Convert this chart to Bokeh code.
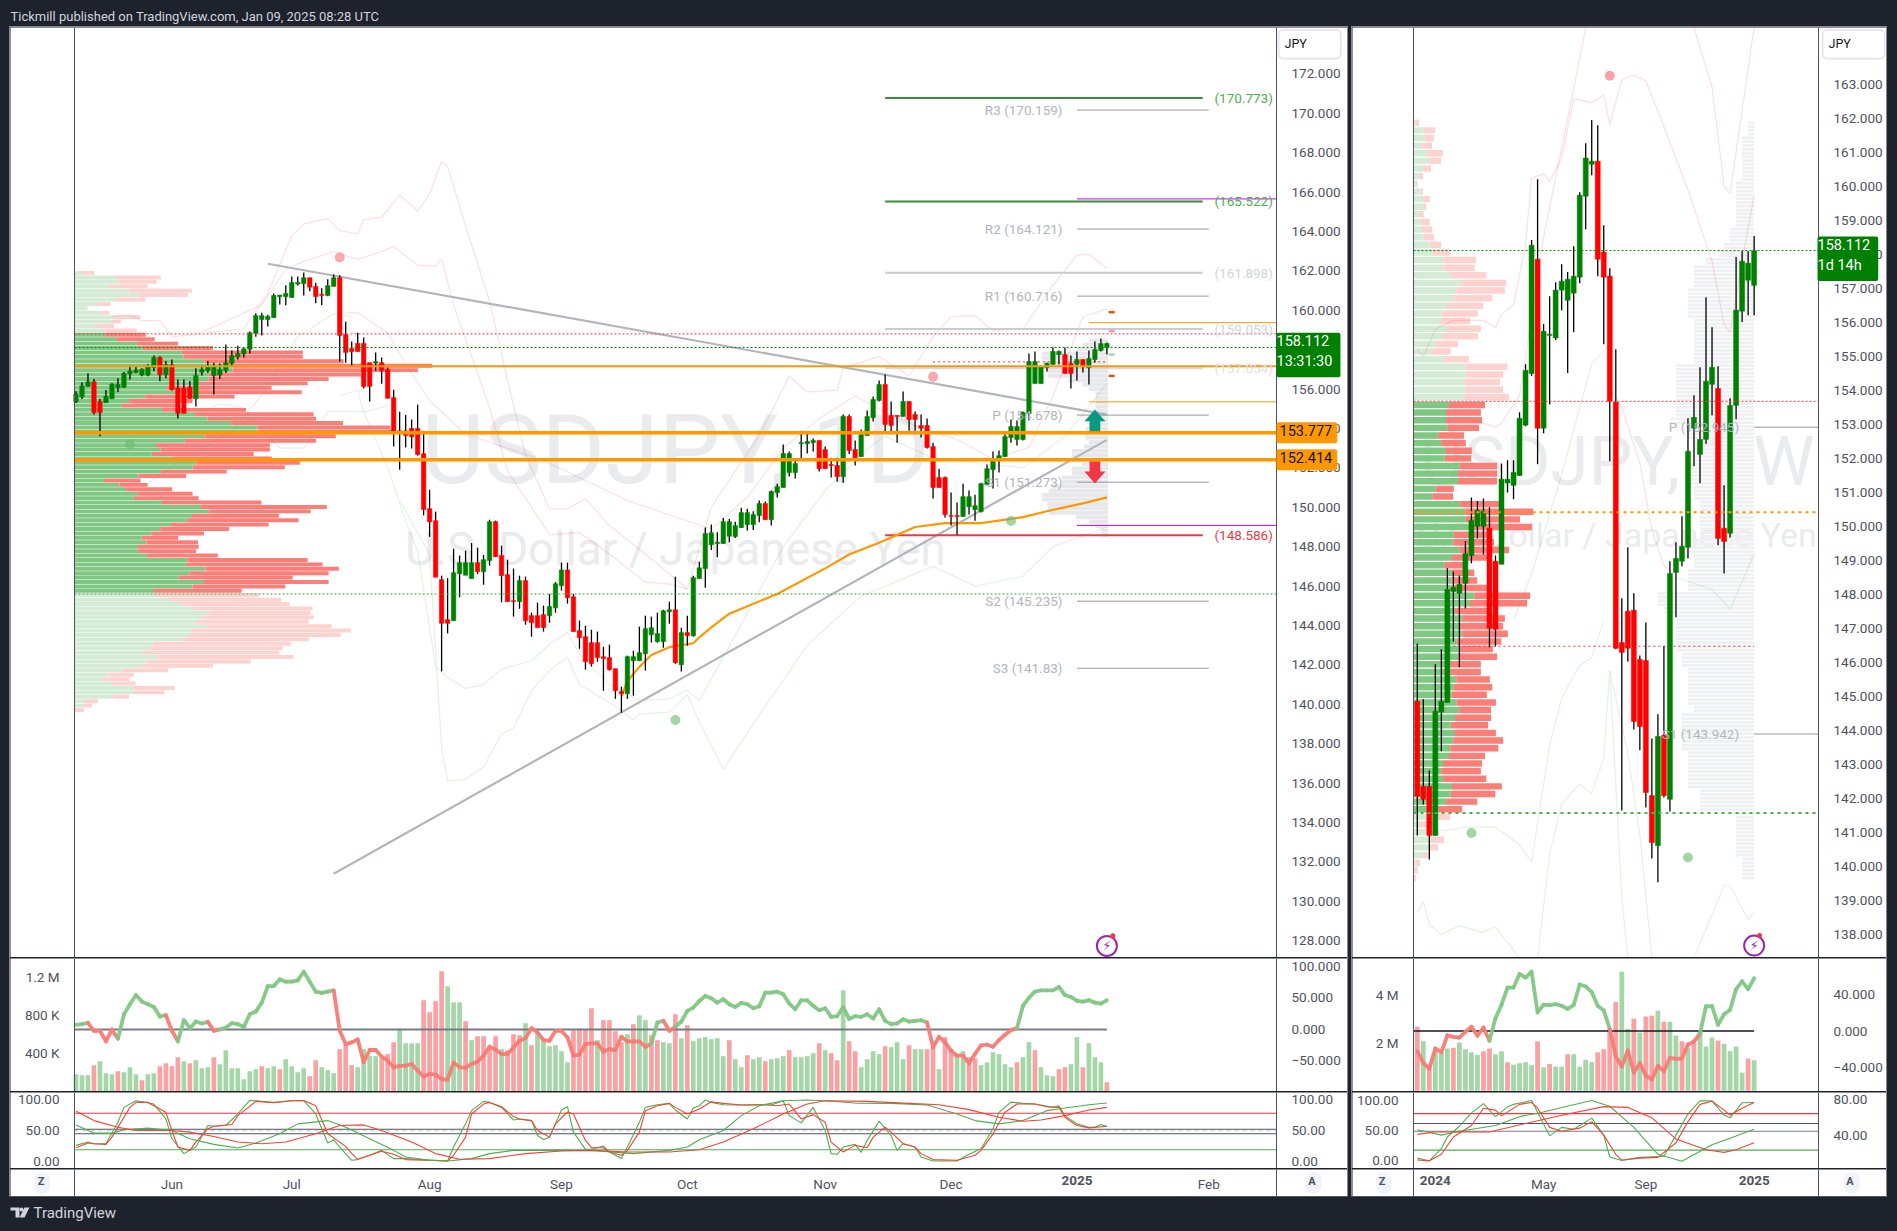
# USDJPY daily + weekly TradingView layout
import numpy as np
from bokeh.core.properties import value
from bokeh.embed import file_html
from bokeh.layouts import column, row
from bokeh.models import (ColumnDataSource, FixedTicker, GlobalInlineStyleSheet, Label,
                          LinearAxis, Range1d, Span, Spacer)
from bokeh.plotting import figure
from bokeh.resources import INLINE

# daily candles
d_open = [155.35,155.61,156.13,156.37,155.37,155.31,155.51,156.07,156.09,156.76,156.84,156.71,156.71,157.10,157.60,156.73,157.24,156.05,156.05,156.09,
          155.51,156.85,156.94,156.69,156.71,156.94,157.30,157.64,157.78,158.02,158.82,159.53,159.53,159.63,160.69,160.69,160.65,161.33,161.35,161.65,
          161.21,160.81,160.75,161.21,161.65,158.76,158.06,158.32,158.32,157.34,157.32,157.34,157.00,155.57,153.88,153.88,154.00,154.00,152.72,149.93,
          149.32,146.33,144.30,144.24,146.63,146.55,146.38,147.19,146.73,147.29,149.27,147.55,146.58,145.26,145.21,146.28,144.50,144.50,144.55,144.50,
          144.90,146.02,146.82,145.46,143.74,143.43,143.13,143.13,142.42,142.37,141.81,140.64,140.54,142.21,142.21,142.57,143.53,143.18,143.18,144.70,
          144.80,142.01,143.64,143.48,146.38,146.89,148.10,148.16,148.16,148.53,148.51,148.97,149.12,149.12,149.58,150.19,149.37,150.75,151.00,151.76,
          151.76,153.23,153.23,153.28,153.39,152.93,152.17,152.12,151.56,154.61,152.93,152.57,153.64,154.55,155.42,156.23,154.66,154.66,154.61,155.37,
          154.71,154.15,154.15,153.08,151.51,151.51,149.58,149.58,149.53,150.03,149.88,149.78,151.15,151.91,152.37,152.57,153.54,153.44,153.44,154.76,
          156.28,156.28,157.09,157.25,157.75,157.75,157.30,157.25,157.50,157.09,157.50,157.96,158.11]
d_high = [155.89,156.35,156.80,156.51,155.51,155.95,156.29,156.55,156.86,157.20,157.16,157.06,157.26,157.70,157.66,157.42,157.50,156.49,156.49,156.41,
          157.06,157.20,157.42,157.34,157.30,158.26,157.96,158.20,158.10,158.92,159.85,159.87,159.77,160.85,160.77,161.27,161.71,161.71,161.91,161.65,
          161.39,161.11,161.57,161.81,161.77,159.42,158.42,158.86,158.62,157.34,157.86,157.60,157.10,155.97,154.85,154.69,154.45,155.21,153.88,150.89,
          149.78,146.53,146.40,147.90,147.55,147.80,148.19,147.95,147.58,149.37,149.32,148.05,147.34,146.89,146.53,146.48,144.65,145.16,145.01,145.60,
          146.21,147.19,147.19,145.60,144.25,143.99,143.79,143.69,142.92,143.03,141.81,140.89,142.47,142.72,143.94,144.50,144.45,144.65,144.80,145.21,
          146.48,143.89,144.50,146.53,147.24,148.97,149.12,148.73,149.46,149.41,149.27,149.97,149.92,149.80,150.34,150.29,150.85,151.20,153.18,152.83,
          152.37,153.89,153.84,153.49,153.39,153.08,152.52,152.52,154.71,154.71,153.39,153.95,154.91,155.62,156.43,156.74,155.37,154.66,155.87,155.37,
          154.86,154.71,154.50,153.28,151.96,151.56,150.75,150.24,151.20,150.85,150.64,151.25,152.17,152.83,152.88,153.79,154.45,154.40,154.86,157.81,
          157.91,157.20,157.35,158.11,157.96,158.11,157.70,157.91,157.50,157.96,158.41,158.57,158.36]
d_low = [155.29,155.49,156.13,154.71,153.60,155.29,155.51,155.85,156.05,156.49,156.80,156.65,156.65,156.90,156.39,156.55,155.93,154.51,154.77,155.49,
         155.11,156.69,156.81,155.73,156.51,156.81,157.16,157.50,157.60,157.80,158.66,158.72,159.18,159.61,160.29,160.25,160.63,161.25,160.75,160.97,
         160.35,160.25,160.71,161.21,157.40,157.34,157.14,157.90,156.03,155.37,156.93,156.27,155.53,153.08,151.91,153.04,152.98,152.62,149.59,148.50,
         146.45,141.67,143.60,144.24,145.43,146.55,146.38,146.60,146.07,147.04,147.49,145.18,145.21,144.45,144.85,144.04,143.43,143.89,143.69,144.14,
         144.65,145.77,145.11,143.69,142.82,141.76,141.91,142.16,140.69,141.71,140.28,139.57,140.28,140.44,142.21,141.71,143.13,143.13,142.87,144.09,
         142.06,141.66,142.97,143.43,146.38,145.92,147.83,147.46,148.16,148.22,148.44,148.95,148.82,148.85,149.24,149.37,149.07,150.49,151.00,151.56,
         151.46,152.37,152.73,152.83,151.81,151.96,151.51,151.30,151.25,152.71,152.12,152.57,153.64,154.35,155.37,153.84,153.84,153.28,154.61,153.89,
         153.89,153.54,152.98,150.44,151.00,149.48,149.07,148.61,149.53,149.63,149.32,149.73,151.15,150.95,151.76,152.57,153.28,153.13,153.39,154.40,
         156.28,156.28,156.89,157.25,157.25,156.79,156.03,156.43,156.84,156.23,157.35,157.91,157.75]
d_close = [155.75,156.17,156.37,154.81,154.81,155.63,156.25,156.23,156.80,156.92,156.96,157.00,157.16,157.60,156.73,157.24,155.97,154.77,154.77,155.53,
           156.69,157.00,157.16,157.14,157.00,157.34,157.70,157.80,158.04,158.86,159.73,159.73,159.69,160.75,160.77,160.85,161.41,161.41,161.65,161.17,
           160.69,160.75,161.25,161.65,158.72,157.86,157.90,157.90,156.13,156.13,157.40,156.94,155.53,153.78,153.76,153.64,153.58,152.68,149.89,149.26,
           146.45,144.11,144.11,146.68,147.19,147.19,147.19,146.73,147.34,149.27,147.49,146.53,145.21,145.21,146.28,144.24,144.14,143.89,143.89,144.96,
           146.12,146.82,145.41,143.69,143.38,142.16,142.06,142.37,142.32,141.76,140.69,140.54,142.42,142.42,142.62,143.84,143.89,143.59,144.75,144.80,
           142.11,143.64,143.48,146.43,146.93,148.67,148.71,148.22,149.27,149.27,149.07,149.73,149.73,149.63,150.19,149.37,150.80,151.05,152.73,152.73,
           152.22,153.28,153.34,153.39,151.96,151.96,152.12,151.56,154.61,152.88,152.52,153.69,154.61,155.47,156.23,154.20,154.15,154.61,155.37,154.45,
           154.45,154.01,153.03,151.00,151.00,149.63,149.54,149.53,150.54,150.54,150.08,151.20,151.96,152.42,152.62,153.59,154.10,154.10,154.81,157.40,
           157.40,157.14,157.30,157.91,157.91,156.79,156.79,157.50,157.14,157.55,158.01,158.31,158.31]

# weekly candles
w_open = [144.86,142.36,142.36,140.92,144.54,144.83,148.09,148.04,148.33,149.15,150.01,150.01,149.95,148.98,148.89,151.28,151.21,151.50,152.98,154.50,
          157.86,152.89,155.62,155.54,156.95,156.65,156.86,157.33,159.71,160.65,160.74,158.07,157.36,153.65,146.59,147.51,147.54,146.09,146.06,142.09,
          140.62,143.86,141.98,148.65,148.98,149.39,152.89,152.12,152.56,154.18,154.06,149.95,149.80,153.56,156.33,157.24,157.09]
w_high = [146.56,144.92,142.83,145.95,146.39,148.77,148.68,148.56,149.57,150.85,150.75,150.82,150.57,149.15,151.85,151.95,151.95,153.36,154.77,158.42,
          160.21,155.95,156.77,157.18,157.71,157.48,158.24,159.83,161.27,161.95,161.80,158.86,157.59,155.21,147.89,149.39,148.04,146.21,147.18,143.77,
          144.48,146.48,148.98,149.54,150.30,153.18,153.86,154.68,156.74,155.86,154.71,151.21,153.77,157.92,158.09,158.09,158.54]
w_low = [140.92,141.83,140.21,140.92,143.39,144.83,146.62,145.86,147.59,148.92,149.65,149.18,146.45,146.48,148.89,151.00,150.80,151.50,152.95,154.42,
         151.83,152.74,153.59,155.48,156.36,154.51,155.71,157.15,158.74,160.33,157.36,155.36,151.92,146.39,141.65,146.03,144.03,143.42,141.74,140.24,
         139.54,142.03,141.62,147.33,148.83,149.06,151.77,151.27,152.43,153.27,149.45,148.62,149.68,153.15,156.01,156.21,156.21]
w_close = [142.07,141.98,140.92,144.57,144.86,148.15,148.21,148.30,149.21,150.18,150.48,150.45,147.01,146.98,151.39,151.39,151.59,153.18,154.59,158.27,
           152.89,155.74,155.65,156.95,157.21,157.27,157.36,159.74,160.83,160.74,157.86,157.33,153.68,146.42,146.30,146.42,144.27,144.12,142.18,140.71,
           143.83,142.09,148.62,149.06,149.42,152.21,153.21,152.56,154.27,154.68,149.65,149.56,153.56,156.36,157.80,157.74,158.11]

# volume (thousands, daily), (millions, weekly) and up/down colour flags
d_vol = [179,168,168,274,316,190,179,211,200,253,179,116,179,190,263,295,263,358,316,295,326,242,253,358,284,432,242,242,126,211,232,263,242,263,232,337,263,200,242,158,326,253,221,190,
         442,495,274,253,442,369,369,347,390,516,660,505,505,505,958,832,948,1264,1106,937,937,737,537,579,579,442,579,442,432,600,590,716,484,621,548,474,484,421,305,642,660,653,874,537,748,748,632,516,600,706,800,748,590,537,516,505,811,558,695,527,558,
         569,548,558,369,537,337,253,379,337,358,316,337,347,369,432,358,358,369,400,505,432,400,326,1064,527,421,253,337,421,390,474,463,516,337,484,442,442,442,463,232,569,442,369,421,358,347,274,305,411,390,284,253,305,358,516,432,253,168,158,232,253,284,569,253,505,358,305,95]
d_vol_up = [1,1,1,0,1,1,1,0,1,1,1,0,1,1,0,0,0,0,1,0,1,1,1,0,1,1,1,1,1,1,1,0,1,1,0,1,1,1,1,0,0,1,1,1,
            0,0,0,1,1,1,1,0,0,0,1,1,1,1,0,0,0,0,1,1,1,0,1,0,0,0,0,1,0,0,0,1,0,1,1,1,1,1,1,0,0,0,0,1,0,0,0,0,1,0,1,1,0,0,1,1,0,1,0,1,1,
            1,1,1,1,0,1,1,0,1,1,0,1,1,1,0,1,1,1,1,0,1,0,0,1,0,0,1,1,1,1,0,1,1,1,0,1,1,0,0,1,0,0,1,1,0,0,1,1,1,1,1,1,0,1,1,0,1,1,1,0,0,1,1,0,1,1,1,0]
w_vol = [2.68,2.07,0.96,1.66,1.58,1.77,1.80,2.02,1.74,1.61,1.50,1.66,1.77,1.53,1.66,1.20,1.09,1.15,1.20,1.07,2.07,0.98,1.12,1.01,1.01,1.53,1.53,1.01,1.30,1.20,1.61,1.74,2.59,3.72,4.98,2.60,3.02,2.44,3.11,3.14,3.35,2.89,2.89,2.31,2.07,1.80,2.02,2.47,1.85,2.23,2.10,1.97,1.66,1.85,0.76,1.35,1.28]
w_vol_up = [0,1,0,1,1,1,0,1,1,1,1,0,0,1,1,0,1,1,1,1,0,1,0,1,1,0,1,1,1,1,0,0,0,0,1,1,0,1,0,0,1,0,1,1,0,1,0,1,1,1,0,1,1,1,1,0,1]

# thick momentum line in the volume pane
d_mom = [7.4,8.4,10.5,-2.1,-2.1,-18.9,0,-14.7,24.2,40,54.7,44.2,40,35.8,20.5,22.6,-2.1,-18.9,14.7,2.1,12.6,9.5,12.1,-2.1,0,3.2,10,8.4,4.2,24.2,28.4,42.6,68.9,68.9,79.5,75.8,75.8,77.9,91.6,75.8,60,57.9,60,62.1,
         -2.1,-23.2,-20.5,-15.8,-52.1,-32.6,-32.6,-43.2,-49.5,-60,-57.9,-57.4,-54.7,-65.3,-74.7,-70.5,-71.6,-78.4,-80,-52.6,-60,-61,-54.7,-51,-41.6,-27.4,-32.1,-38.9,-38.9,-28.4,-17.9,-13.7,2.1,-4.7,-16.8,-17.9,-2.1,-2.1,-12.6,-41.6,-40,-23.2,-22.1,-22.1,-35.3,-31.1,-32.6,-11.6,-18.9,-18.9,-18.9,-27.4,-22.1,11.1,13.7,-2.1,4.2,12.6,29.5,34.7,45.3,
         53.2,49.5,42.6,47.9,40,35.8,42.1,40,33.7,36.8,58.4,58.4,60,55.8,41.1,32.1,46.3,46.3,37.4,30.5,33.7,20,21.1,35.8,16.8,21.1,20,24.2,17.4,32.1,13.7,8.4,9.5,16.3,12.6,13.7,14.7,11.1,-28.4,-11.6,-20.5,-33.7,-41.6,-41.6,-53.7,-38.9,-25.3,-24.2,-27.4,-16.8,-8.4,-1.1,2.1,37.4,50.5,60,62.1,62.1,62.1,67.4,54.7,51.6,45.3,44.2,46.3,42.6,41.1,46.3]
d_mom_red = [(2,7),(15,17),(22,24),(43,96),(98,100),(142,157)]
w_mom = [-22.1,-34.9,-41.3,-19.1,-23.4,-4.7,-6.4,-7.2,-0.9,4.7,-5.1,3.8,-10.6,14,28.9,47.7,47.7,62.5,58.7,65.1,20.4,28.9,28.5,29.4,27.7,24.3,28.5,51.1,48.9,42.6,27.7,22.6,2.1,-27.7,-39.1,-21.3,-45.5,-35.3,-48.9,-53.2,-38.3,-44.3,-29.4,-30.6,-30.2,-14.9,-11.5,-3,27.2,27.2,6.8,18.3,23.4,46,54.5,46,57.9]
w_mom_red = [(0,12),(32,47)]

# oscillators, daily
k_i = [0,2,3,5,7,8,10,12,13,15,16,18,20,22,23,25,27,29,30,33,36,38,40,42,43,44,46,47,49,51,53,55,58,62,63,65,66,68,69,71,73,74,76,77,78,79,81,82,83,85,86,88,89,91,92,94,95,97,99,100,102,103,104,
       105,106,108,111,114,116,118,119,121,123,125,126,127,128,130,131,132,134,136,137,138,140,141,143,147,149,151,153,154,156,158,160,163,164,165,167,169,170,171,172]
k_v = [25.8,31.2,28.5,28.5,63.4,87.6,98.4,95.2,93,68.8,36.6,12.4,23.1,58.1,57,58.1,76.9,98.9,98.4,95.7,98.4,98.4,76.9,29.6,34.9,23.1,1.6,2.7,9.7,17.7,4.3,4.3,2.7,0.5,23.1,60.8,82.3,97.3,95.7,87.6,67.2,68.8,66.1,41.9,35.5,39.2,83.3,88.7,47.3,19.4,19.4,24.7,15.1,4.3,23.1,63.4,87.6,91.9,94.1,83.3,68.8,86.6,90.3,
       99.5,95.7,91.9,91.4,91.9,91.4,98.4,74.2,62.4,87.6,50,12.4,11.3,23.1,27.4,14.5,33.9,65.1,41.9,17.7,28.5,23.1,7,0.5,0.5,11.3,20.4,52.7,79.6,96.2,94.1,93,87.6,90.3,74.2,60.8,55.4,55.4,59.7,56.5]
d_i = [0,2,3,5,6,8,9,10,12,15,16,17,19,20,22,23,26,27,30,33,36,38,40,42,45,46,47,49,51,53,55,58,62,63,65,66,68,69,71,73,74,76,77,79,80,82,83,85,86,88,89,91,92,94,95,97,99,100,102,104,
       106,108,111,115,117,119,121,123,125,126,128,130,132,133,135,136,138,140,141,143,147,150,151,153,155,157,160,162,164,165,167,169,172]
d_v = [22,29.6,28.5,27.4,39.2,71.5,87.6,95.7,95.7,79.6,50,23.1,17.7,31.2,52.7,57,59.7,74.2,97.3,95.2,98.4,98.9,90.3,44.6,24.2,12.4,3.2,9.7,16.1,11.3,2.7,1.6,0.5,9.7,39.2,76.9,93,95.7,88.7,72.6,68.8,66.1,50,39.2,60.8,80.1,76.9,33.9,22,22,15.1,9.7,17.7,47.3,82.3,90.3,94.1,87.6,76.9,84.9,
       96.8,94.1,91.4,91.9,90.3,93,68.8,75.8,63.4,31.2,15.1,25.8,22,39.2,55.4,47.3,28.5,23.1,12.4,2.7,1.6,9.7,17.7,44.6,79.6,93,93,88.7,87.6,71.5,58.1,54.3,57]
sk_i = [0,3,6,8,12,16,19,23,27,30,34,37,42,45,49,53,55,59,62,66,69,73,81,86,93,99,102,104,108,111,114,118,122,125,130,136,142,147,150,154,158,162,165,169,172]
sk_v = [59.1,45.7,45.7,51.1,53.8,50,36.6,27.4,21.5,29.6,44.6,60.8,66.1,55.4,36.6,17.7,7,1.6,0.5,4.3,12.4,17.7,17.7,17.7,12.4,17.7,23.1,34.9,50,74.2,90.3,98.4,99.5,98.4,94.6,94.1,91.4,76.9,66.1,60.8,66.1,82.3,86.6,91.9,94.6]
sd_i = [0,3,7,10,16,19,23,27,31,35,40,44,48,51,56,60,64,69,75,81,86,92,99,104,108,113,118,122,125,132,139,144,149,154,158,161,165,169,172]
sd_v = [81.2,66.1,55.4,50,50,47.3,40.3,31.2,28.5,31.2,44.6,58.1,59.1,50,31.2,12.4,3.2,4.3,12.4,16.7,17.7,15.1,15.1,18.8,31.2,52.7,76.9,93,98.4,97.3,94.1,91.9,83.9,71.5,65.1,67.2,74.2,83.3,87.6]

# oscillators, weekly
wk_i = [0,2,4,5,7,9,11,13,15,16,19,22,24,26,29,31,32,34,37,41,43,45,47,49,51,52,54,56]
wk_v = [4.5,0,20.5,39.7,57.7,80.1,95.5,73.7,89.7,94.2,100.6,41.7,55.8,52.6,71.2,42.9,6.4,0.6,5.8,7.7,42.9,78.2,100,100,76.3,71.8,96.8,97.4]
wd_i = [0,2,4,6,9,11,13,14,17,19,20,22,24,27,29,31,33,34,37,40,43,45,47,49,51,52,54,56]
wd_v = [1.3,0,10.9,39.7,59,87.8,84.6,75,94.2,97.4,87.8,55.8,49.4,54.5,65.4,42.9,10.9,1.3,4.5,5.8,30.1,65.4,94.2,99.4,84.6,76.3,87.8,97.4]
wsk_i = [0,4,7,13,17,21,24,29,32,36,40,44,49,52,56]
wsk_v = [51.9,42.9,49.4,59,73.7,81.4,89.1,100.6,91,55.8,10.9,-0.6,26.9,37.8,52.6]
wsd_i = [0,3,12,18,25,31,35,39,43,48,51,53,56]
wsd_v = [44.2,48.1,48.1,62.2,78.2,90.4,89.1,71.8,36.5,18.6,14.1,18.6,30.1]

# volume profile, daily chart: (buy, total) per row, top row first
dp_up = [1.1,6.9,7.5,5.6,9,10.9,6.9,3.8,2,4.6,6.8,6.1,3.3,5.1,5.1,7.1,10.4,11.4,17.9,18.2,21.7,26.4,26.4,22.4,22.4,20.4,15.3,17,11.8,9.1,7.8,14.6,20.1,22.2,26.1,30.5,30.5,21.9,18.4,13.6,14.4,12.9,16.3,20.4,19.7,14.3,10.7,4.9,7.5,8.6,10.6,9.9,14.6,21.1,22.4,19.6,18.8,16.1,14.3,12.8,11.2,12,10.6,10.6,12.1,18.9,18.6,21.9,19.2,17.4,21.6,19.7,13.1,13.6,
         16.1,17.9,19.9,22.5,21.4,20.2,22.1,19.6,19.1,17.9,13,12.6,11.2,13.9,12,11.4,8,5.7,4.4,6.3,9.9,9.9,6.5,1.6,1.4,0]
dp_total = [3.3,14.4,13.7,12.2,19.6,18.9,11.8,6,2.2,5.8,11,7.8,6.6,10.4,11.9,13.4,17.3,23.1,38.1,38.1,44.9,59.7,57.3,47.8,42.4,38.9,32.9,37.9,26.7,19.7,17,28.6,39.9,40.3,44.8,52.7,53.1,43.6,40.3,32.6,32.6,29.9,32.9,37.6,35.1,25.4,18.6,11,12.2,16.3,19.7,20.7,31.2,42.1,39.4,34.1,37.4,32.4,25.8,21.6,17.3,20.6,20.7,20.3,23.9,38.9,41.4,44.1,42.4,36.4,42.4,35.2,27.9,30.7,
            34.5,35.9,39.7,39.4,39.9,39.1,42.9,46.1,44.4,39.1,36.1,34.7,34.2,36.5,29.4,23.1,15.6,9.9,9.2,10.2,16.7,15,9.1,3.9,2.9,1.6]
dp_top, dp_bottom = 161.89, 139.71
d_vah, d_val = 158.80, 145.60

# volume profile, weekly chart
wp_up = [0.4,1.7,1.9,1.4,2.2,2.7,1.7,0.9,0.6,1.2,1.7,1.6,0.9,1.2,1.4,1.7,2.7,3.1,5,5,6.1,7.9,7.1,6.6,5.4,4.7,4.4,5.4,4.7,3.6,2.9,5.1,8.6,8.7,8.4,8.6,8.4,5.9,5.4,5.4,5.6,4.1,4.6,5.4,5.2,7.7,7.4,7.4,3.7,3.1,
         7.7,8.7,8.7,9.9,6.7,6.6,7.7,6.4,5.1,6.4,6.3,6.5,10.1,9.4,6.9,8.1,7.7,8.1,7.2,7.6,7.4,6.2,6.1,7.1,6.7,6.3,7.2,7.6,6.9,6.2,6.9,6.6,6.1,5.9,4.9,4.6,4.9,6.4,6.2,5.4,4.1,2.1,1.1,2.2,2.8,2.6,1.7,0.4,0.2,0.1]
wp_total = [0.9,3.6,3.4,3.1,4.9,4.6,2.9,1.6,0.7,1.6,2.7,2.1,1.7,2.7,3.1,3.4,4.6,6.1,10.4,10.2,12.1,15.4,15.2,13.1,11.6,10.7,9.4,11.2,10.7,7.4,6.2,9.2,15.6,14.9,14.4,14.9,15.9,11.9,11.2,11.4,10.9,8.4,8.7,9.7,9.6,13.9,13.9,13.9,6.7,6.6,
            14.3,19.9,17.7,19.7,12.3,13.4,15.9,12.3,8.6,10.1,10.6,12.7,19.4,18.9,13,15.2,14.9,15.7,14.6,13.2,13.9,11.2,11.2,12.7,13.1,12.2,13.7,12.9,12.9,12.4,13.7,14.9,14.1,11.9,11.4,11.2,12.1,14.7,13.6,10.6,8.1,6.1,3.4,4.2,5.1,4.1,2.4,1.1,0.7,0.4]
wp_top, wp_bottom = 161.87, 139.67
w_vah, w_val = 153.68, 141.575

# session profile (grey, right aligned)
dg_width = [3.1,4.3,5.4,11,11,11,11,10.2,10,6.6,4.3,3.2,2.1,2.1,2.1,2.1,2.1,2.1,2.7,3,3.8,4,3.8,3.2,4,6,6,6,4.3,6,6,7.7,7.7,9.3,9.9,11,11,10.2,10,9.9,5.4,3.2,2.1,1.2,1]
dg_top, dg_bottom = 158.47, 148.6
wg_width = [1,1,2,2,2,2,2,2,3,3,3,3,3,3,4,4,5,6,8,10,10,10,11,11,11,11,10,10,10,10,10,10,13,13,13,13,13,13,13,14,11,11,10,10,10,11,11,11,10,10,
            9,9,9,9,9,11,11,10,10,11,11,11,16,16,15,13,13,13,13,13,12,12,11,11,11,11,11,10,12,12,12,12,12,11,11,11,11,11,9,9,9,3,3,3,3,3,3,2,2,2]

# faint bands, daily
pa_i = [22,28,32,36,38,42,44,47,48,51,54,57,59,61,62,65,69,72,75,79,82,85,89,95,102,106,114,119,122,127,128,134,139,143,146,150,153,158,163,167,169,172]
pa_p = [158.86,159.06,160.87,163.78,164.38,164.65,164.04,163.88,164.59,164.73,165.85,165.03,165.89,167.56,167.3,164.28,160.47,156.45,152.64,149.92,149.92,150.43,149.07,147.63,145.85,150,153.64,156.65,155.85,155.95,157.06,157.66,156.65,158.66,159.67,159.73,158.96,159.06,161.27,162.78,162.84,162.12]
pb_i = [6,9,11,14,16,20,31,35,38,43,47,51,53,57,60,61,63,69,72,79,84,89,95,99,102]
pb_p = [159.67,159.77,159.47,159.47,158.66,158.76,160.27,162.08,162.48,162.98,162.58,162.98,163.24,162.28,162.24,162.58,160.27,155.05,151.84,148.6,148.73,147.63,146.2,146.1,145.85]
pc_i = [45,47,52,55,59,65,78,92,106,112,118,124,130,135,140,147,153,159,163,168,172]
pc_p = [159.87,159.87,158.86,157.26,155.42,153.72,152.37,150.34,148.9,150.5,153,154.5,155.65,154.85,154.14,153.44,152.44,153.04,155.65,159.67,160.07]
ga_i = [11,19,26,31,37,43,46]
ga_p = [151.03,152.64,153.84,155.7,158.66,159.83,159.67]
gb_i = [44,47,48,52,55,57,60,62,65,68,71,76,79,82,84,89,94,99,102,104,110,118,125,133,135,143,158,165,172]
gb_p = [155.65,155.95,154.85,152,149.3,147.8,141.9,141.37,140.8,141,141.8,142.2,143.06,143.65,142.55,141,140.2,140.28,140.7,140.2,143.5,148,150.85,153.2,153.6,152.5,152,153.6,156.27]
gc_i = [54,59,61,62,65,68,71,73,76,79,82,84,90,93,94,99,102,104,108,113,122,131,143,150,158,163,172]
gc_p = [150.34,147.63,137.8,136.1,136.2,136.8,138.5,138.8,140.7,141.7,142.4,141,139.9,139.2,139.5,139.6,140.5,139.1,136.7,139,143,145.5,147,146,146.5,148,149]
gd_i = [21,24,28,32,34,38,42,48,52]
gd_p = [154.85,155.25,155.05,153.64,153,153,154.85,154.85,155.15]

# faint bands, weekly
wpa_i = [0,1,3,6,11,13,14,16,18,19,21,22,24,26,29,31,32,34,36,38,41,45,49,51,52,54,56]
wpa_p = [155.2,155,155.8,156.06,156.06,155.85,156.23,156.52,158.27,160.25,160.36,160.15,160.83,162.57,162.46,162.69,161.82,163.15,163.27,163.1,161.76,159.9,157.8,155.94,155.71,157.8,159.72]
wpb_i = [9,13,14,17,19,21,25,28,37,46,49,51,52,56]
wpb_p = [153.15,152.92,153.04,153.85,156.18,158.5,162,164.67,168,164.67,162.92,160.01,159.78,164.67]
wpc_i = [32,34,37,39,41,42]
wpc_p = [154.08,153.5,151.87,149.9,148.85,148.73]
wga_i = [16,19,24,29,32]
wga_p = [147.24,148.62,151.52,154.78,155.36]
wgb_i = [43,49,52,56]
wgb_p = [148.5,148.15,147.57,149.2]
wgc_i = [0,1,2,4,7,11,13,17,18,20,22,24,27,29,31,32,34,35]
wgc_p = [138.64,138.98,138.3,138.01,138.26,138.07,138.24,137.32,136.5,137.32,140.36,141.85,142.43,142.14,143.2,145.75,139.1,137.32]
wgd_i = [4,8,13,17,19,22,24,27,29,31]
wgd_p = [141.05,141.16,141.16,140.65,140.13,143.57,144.95,145.92,146.15,147.24]
wge_i = [32,35,37,39]
wge_p = [145.75,143.34,140.93,137.32]
wgf_i = [46,51,52,55,56]
wgf_p = [137.32,139.44,139.44,138.45,138.64]

# moving average and trend lines, daily
ma_i = [91,92,94,96,99,103,104,106,109,117,125,129,134,140,145,151,158,162,168,172]
ma_p = [140.4,141.2,141.9,142.5,142.9,143.1,143.4,143.9,144.6,145.6,146.9,147.6,148.2,149,149.2,149.2,149.5,149.8,150.2,150.5]
trend_down_i, trend_down_p = [32,172], [162.36,154.7]
trend_up_i, trend_up_p = [43,172], [131.4,153.42]
arrow_up_i = [170,171.75,170.9,170.9,169.1,169.1,168.25]
arrow_up_p = [154.96,154.37,154.37,153.86,153.86,154.37,154.37]
arrow_dn_i = [170,171.75,170.9,170.9,169.1,169.1,168.25]
arrow_dn_p = [151.21,151.81,151.81,152.32,152.32,151.81,151.81]

# tick labels and levels
d_yticks = list(range(128, 173, 2))
w_yticks = list(range(138, 164))
d_month_ticks = {16: "Jun", 36: "Jul", 59: "Aug", 81: "Sep", 102: "Oct", 125: "Nov", 146: "Dec", 189: "Feb"}
d_year_ticks = {167: "2025"}
w_month_ticks = {21: "May", 38: "Sep"}
w_year_ticks = {3: "2024", 56: "2025"}
pivots = [("R3 (170.159)", 170.159), ("R2 (164.121)", 164.121), ("R1 (160.716)", 160.716), ("P (154.678)", 154.678),
          ("S1 (151.273)", 151.273), ("S2 (145.235)", 145.235), ("S3 (141.83)", 141.83)]
target_levels = [(170.773, "#388e3c", "#4caf50"), (165.522, "#388e3c", "#4caf50"), (161.898, "#c9cbd2", "#d1d4dc"),
                 (159.053, "#c9cbd2", "#d1d4dc"), (157.054, "#d7d9de", "#dfe1e6"), (148.586, "#f23645", "#f23645")]

FONT = "Roboto"
DARK = "#1e222d"
AXIS = "#50535e"
TEXT = "#50535e"
GREEN, RED = "#008000", "#ff0000"
# LX0..LX1 / RX0..RX1 are the plot areas between the axis lines; every frame also runs over the axis strips,
# so the price tags and the buttons can sit inside it
LX0, LX1 = -0.25, 200.3
RX0, RX1 = -0.63, 66.7
L_W, R_W = 1337, 534
L_LB, L_RB = 64, 71
R_LB, R_RB = 61, 68
L_STEP = (LX1 - LX0) / (L_W - L_LB - L_RB)
R_STEP = (RX1 - RX0) / (R_W - R_LB - R_RB)
LX_FULL = (LX0 - L_LB * L_STEP, LX1 + L_RB * L_STEP)
RX_FULL = (RX0 - R_LB * R_STEP, RX1 + R_RB * R_STEP)


def pane(width, height, xr, yr, x0, x1):
    p = figure(width=width, height=height, x_range=Range1d(*xr), y_range=Range1d(*yr), tools="",
               toolbar_location=None, output_backend="svg", x_axis_location=None, y_axis_location=None,
               min_border=0, background_fill_color="white", border_fill_color="white", outline_line_color=None)
    p.grid.grid_line_color = None
    p.add_layout(Span(location=x0, dimension="height", line_color=AXIS, line_width=1))
    p.add_layout(Span(location=x1, dimension="height", line_color=AXIS, line_width=1))
    return p


def side_axis(p, side, at, ticks, overrides, y_range_name="default"):
    ax = LinearAxis(ticker=FixedTicker(ticks=list(ticks)), y_range_name=y_range_name, fixed_location=at,
                    axis_line_color=None, major_tick_line_color=None, minor_tick_line_color=None,
                    major_label_overrides=overrides, major_label_text_color=TEXT, major_label_text_font=FONT,
                    major_label_text_font_size="13.5px", major_label_standoff=9)
    p.add_layout(ax, side)


def band(p, xs, ys, color):
    p.line(xs, ys, line_color=color, line_alpha=0.16, line_width=1.2)


def candles(p, o, h, l, c, width):
    x = list(range(len(o)))
    src = ColumnDataSource(dict(x=x, top=[max(a, b) for a, b in zip(o, c)], bottom=[min(a, b) for a, b in zip(o, c)],
                                high=h, low=l, color=[GREEN if b >= a else RED for a, b in zip(o, c)]))
    p.segment("x", "high", "x", "low", source=src, line_color="black", line_width=1.3)
    p.vbar("x", width, "top", "bottom", source=src, fill_color="color", line_color="color", line_width=0.5)


def profile(p, up, total, top, bottom, x0, vah, val, height):
    y = np.linspace(top, bottom, len(up))
    inside = [val <= v <= vah for v in y]
    p.hbar(y, height, [x0] * len(up), [x0 + u for u in up],
           fill_color=["#81c784" if f else "#d4ebd6" for f in inside], line_color=None)
    p.hbar(y, height, [x0 + u for u in up], [x0 + t for t in total],
           fill_color=["#fb7f78" if f else "#fdd3d0" for f in inside], line_color=None)


def mom_line(p, mom, spans, color_up="#81c784", color_dn="#f77c75"):
    x = list(range(len(mom)))
    colors = [color_dn if any(a <= k < b for a, b in spans) else color_up for k in range(len(mom) - 1)]
    p.segment(x[:-1], mom[:-1], x[1:], mom[1:], line_color=colors, line_width=3.8, line_cap="round",
              line_alpha=0.95, y_range_name="mom")


def hline(p, level, x0, x1, color, width, dash=None):
    if dash:
        p.segment(x0, level, x1, level, line_color=color, line_width=width, line_dash=value(dash))
    else:
        p.segment(x0, level, x1, level, line_color=color, line_width=width)


def tag(p, text, x, y, bg, fg="white", padding=(3, 5, 3, 7)):
    p.add_layout(Label(x=x, y=y, x_units="screen", text=text, text_color=fg, text_font=FONT, text_font_size="14.5px",
                       text_baseline="middle", background_fill_color=bg, padding=padding, border_radius=2))


def jpy_box(p, x, y):
    p.add_layout(Label(x=x, y=y, x_units="screen", text="JPY", text_color="#131722", text_font=FONT,
                       text_font_size="12.5px", text_baseline="middle", border_line_color="#e6e8ee", border_line_width=2,
                       background_fill_color="white", padding=(6, 34, 6, 8), border_radius=5))


def watermark(p, x, y, text, size):
    p.add_layout(Label(x=x, y=y, text=text, text_align="center", text_baseline="middle", text_color="#e9ebee",
                       text_font=FONT, text_font_size=size, level="underlay"))


def bolt(p, x, y):
    p.scatter([x], [y], marker="circle", size=20, fill_color="white", line_color="#9c27b0", line_width=2)
    p.add_layout(Label(x=x, y=y, text="\u26a1", text_align="center", text_baseline="middle", text_color="#9c27b0",
                       text_font="DejaVu Sans", text_font_size="13px"))


def time_strip(width, xr, x0, x1, months, years, z_x, a_x):
    p = pane(width, 27, xr, (0, 1), x0, x1)
    for ticks, style in ((months, "normal"), (years, "bold")):
        ax = LinearAxis(ticker=FixedTicker(ticks=list(ticks)), major_label_overrides=ticks, fixed_location=1,
                        axis_line_color=None, major_tick_line_color=None, minor_tick_line_color=None,
                        major_label_text_color=TEXT, major_label_text_font=FONT, major_label_text_font_size="13.5px",
                        major_label_text_font_style=style, major_label_standoff=0)
        p.add_layout(ax, "below")
    for text, x in (("Z", z_x), ("A", a_x)):
        p.add_layout(Label(x=x, y=0.5, x_units="screen", text=text, text_align="center", text_baseline="middle",
                           text_color=TEXT, text_font=FONT, text_font_size="11px", text_font_style="bold",
                           background_fill_color="#f0f3fa", padding=(3, 6, 3, 6), border_radius=9))
    return p


# --- daily main pane
lm = pane(L_W, 930, LX_FULL, (127.15, 174.35), LX0, LX1)
side_axis(lm, "right", LX1, d_yticks, {t: f"{t}.000" for t in d_yticks})
watermark(lm, 100, 152.9, "USDJPY, 1D", "97px")
watermark(lm, 100, 147.9, "U.S. Dollar / Japanese Yen", "46px")
profile(lm, dp_up, dp_total, dp_top, dp_bottom, LX0, d_vah, d_val, 0.2)
lm.hbar(np.linspace(dg_top, dg_bottom, len(dg_width)), 0.2, [172.2 - w for w in dg_width], 172.2,
        fill_color="#e6e8ec", line_color=None)
for xs, ys in ((pa_i, pa_p), (pb_i, pb_p), (pc_i, pc_p)):
    band(lm, xs, ys, "#f23645")
for xs, ys in ((ga_i, ga_p), (gb_i, gb_p), (gc_i, gc_p), (gd_i, gd_p)):
    band(lm, xs, ys, "#4caf50")
lm.line(trend_down_i, trend_down_p, line_color="#b2b5be", line_width=2.2)
lm.line(trend_up_i, trend_up_p, line_color="#b2b5be", line_width=2.2)
for level, line_color, text_color in target_levels:
    hline(lm, level, 135, 188, line_color, 2)
    lm.add_layout(Label(x=199.7, y=level, text=f"({level:.3f})", text_align="right", text_baseline="middle",
                        text_color=text_color, text_font=FONT, text_font_size="13.5px"))
for name, level in pivots:
    hline(lm, level, 167, 189, "#9598a1", 1)
    lm.add_layout(Label(x=164.6, y=level, text=name, text_align="right", text_baseline="middle", text_color="#b2b5be",
                        text_font=FONT, text_font_size="13.5px"))
hline(lm, 165.65, 167, LX1, "#d500f9", 1)
hline(lm, 149.08, 167, LX1, "#d500f9", 1)
hline(lm, 159.37, 169, LX1, "#ff9800", 1)
hline(lm, 155.35, 169, LX1, "#ff9800", 1)
hline(lm, 157.38, 143, 172, "#f23645", 1, [2, 3])
lm.line(ma_i, ma_p, line_color="#ff9800", line_width=2.2)
lm.scatter([44, 143], [162.68, 156.63], marker="circle", size=10, fill_color="#f77c80", fill_alpha=0.65, line_color=None)
lm.scatter([9, 156, 100], [153.2, 149.3, 139.2], marker="circle", size=10, fill_color="#66bb6a", fill_alpha=0.6, line_color=None)
candles(lm, d_open, d_high, d_low, d_close, 0.75)
hline(lm, d_vah, LX0, LX1, "#f23645", 1, [2, 2])
hline(lm, 158.112, LX0, LX1, "#008000", 1, [2, 2])
hline(lm, d_val, LX0, LX1, "#43a047", 1, [2, 2])
hline(lm, 157.16, LX0, LX1, "#ff9800", 2)
hline(lm, 153.777, LX0, LX1, "#ff9800", 3.5)
hline(lm, 152.414, LX0, LX1, "#ff9800", 3.5)
lm.patch(arrow_up_i, arrow_up_p, fill_color="#089981", line_color=None)
lm.patch(arrow_dn_i, arrow_dn_p, fill_color="#f23645", line_color=None)
lm.hbar([159.9, 158.94, 157.75, 156.67], 0.12, 172.3, 173.3, fill_color=["#e65100", "#f7a0a0", "#a5d6a7", "#e65100"], line_color=None)
bolt(lm, 172, 127.74)
lm.scatter([173], [128.25], marker="circle", size=5, fill_color="#f23645", line_color=None)
jpy_box(lm, 1268, 173.5)
tag(lm, "153.777", 1266, 153.777, "#ff9800", "#131722")
tag(lm, "152.414", 1266, 152.414, "#ff9800", "#131722")
tag(lm, "158.112\n13:31:30", 1266, 157.73, "#008000", padding=(0, 8, 0, 7))

# --- daily volume pane
lv = pane(L_W, 133, LX_FULL, (-3, 1397), LX0, LX1)
lv.extra_y_ranges = {"mom": Range1d(-98.4, 112.6)}
side_axis(lv, "left", LX0, [400, 800, 1200], {400: "400 K", 800: "800 K", 1200: "1.2 M"})
side_axis(lv, "right", LX1, [-50, 0, 50, 100], {-50: "\u221250.000", 0: "0.000", 50: "50.000", 100: "100.000"}, "mom")
lv.vbar(list(range(len(d_vol))), 0.78, d_vol, 0, fill_color=["#a5d6a7" if u else "#faa1a4" for u in d_vol_up], line_color=None)
lv.segment(LX0, 0, 172, 0, line_color="#787b86", line_width=2, y_range_name="mom")
mom_line(lv, d_mom, d_mom_red)

# --- daily oscillator pane
lo = pane(L_W, 76, LX_FULL, (-11.8, 111.8), LX0, LX1)
side_axis(lo, "left", LX0, [0, 50, 100], {0: "0.00", 50: "50.00", 100: "100.00"})
side_axis(lo, "right", LX1, [0, 50, 100], {0: "0.00", 50: "50.00", 100: "100.00"})
for level, color, dash in ((78, "#f23645", None), (18.8, "#4caf50", None), (52, "#50535e", None), (44.6, "#50535e", None), (49.5, "#c3c6ce", [4, 4])):
    hline(lo, level, LX0, LX1, color, 1.1, dash)
lo.line(k_i, k_v, line_color="#4caf50", line_width=1.1)
lo.line(d_i, d_v, line_color="#f44336", line_width=1.1)
lo.line(sk_i, sk_v, line_color="#4caf50", line_width=1.1)
lo.line(sd_i, sd_v, line_color="#f44336", line_width=1.1)

lt = time_strip(L_W, LX_FULL, LX0, LX1, d_month_ticks, d_year_ticks, 32, 1303)

# --- weekly main pane
rm = pane(R_W, 930, RX_FULL, (137.33, 164.67), RX0, RX1)
side_axis(rm, "right", RX1, w_yticks, {t: f"{t}.000" for t in w_yticks})
watermark(rm, 33.2, 151.9, "USDJPY, 1 W", "69px")
watermark(rm, 33.2, 149.76, "U.S. Dollar / Japanese Yen", "34px")
profile(rm, wp_up, wp_total, wp_top, wp_bottom, RX0, w_vah, w_val, 0.19)
wg_rows = np.repeat(wg_width, 2)
rm.hbar(np.linspace(wp_top, wp_bottom, len(wg_rows)), 0.08, [56 - w for w in wg_rows], 56, fill_color="#eef0f3", line_color=None)
for xs, ys in ((wpa_i, wpa_p), (wpb_i, wpb_p), (wpc_i, wpc_p)):
    band(rm, xs, ys, "#f23645")
for xs, ys in ((wga_i, wga_p), (wgb_i, wgb_p), (wgc_i, wgc_p), (wgd_i, wgd_p), (wge_i, wge_p), (wgf_i, wgf_p)):
    band(rm, xs, ys, "#4caf50")
for name, level, x in (("P (152.945)", 152.92, 53.5), ("S1 (143.942)", 143.9, 53.5)):
    hline(rm, level, 56, RX1, "#9598a1", 1)
    rm.add_layout(Label(x=x, y=level, text=name, text_align="right", text_baseline="middle", text_color="#b2b5be",
                        text_font=FONT, text_font_size="13.5px"))
hline(rm, 146.48, 6, 56, "#f23645", 1, [2, 3])
candles(rm, w_open, w_high, w_low, w_close, 0.83)
rm.scatter([32], [163.25], marker="circle", size=10, fill_color="#f77c80", fill_alpha=0.7, line_color=None)
rm.scatter([9, 45], [140.99, 140.27], marker="circle", size=10, fill_color="#66bb6a", fill_alpha=0.6, line_color=None)
hline(rm, w_vah, RX0, RX1, "#f23645", 1, [2, 2])
hline(rm, 158.112, RX0, RX1, "#008000", 1, [2, 2])
hline(rm, 150.42, RX0, RX1, "#ff9800", 2, [3, 4])
hline(rm, w_val, RX0, RX1, "#4caf50", 2, [3, 4])
bolt(rm, 56, 137.68)
rm.scatter([56.9], [137.98], marker="circle", size=5, fill_color="#f23645", line_color=None)
jpy_box(rm, 470, 164.18)
tag(rm, "158.112\n1d 14h", 465, 157.87, "#008000", padding=(0, 8, 0, 7))

# --- weekly volume pane
rv = pane(R_W, 133, RX_FULL, (-0.03, 5.54), RX0, RX1)
rv.extra_y_ranges = {"mom": Range1d(-66.4, 79.6)}
side_axis(rv, "left", RX0, [2, 4], {2: "2 M", 4: "4 M"})
side_axis(rv, "right", RX1, [-40, 0, 40, 80], {-40: "\u221240.000", 0: "0.000", 40: "40.000", 80: "80.000"}, "mom")
rv.vbar(list(range(len(w_vol))), 0.8, w_vol, 0, fill_color=["#a5d6a7" if u else "#faa1a4" for u in w_vol_up], line_color=None)
rv.segment(RX0, 0, 56, 0, line_color="#131722", line_width=1.5, y_range_name="mom")
mom_line(rv, w_mom, w_mom_red)

# --- weekly oscillator pane
ro = pane(R_W, 76, RX_FULL, (-12.8, 114), RX0, RX1)
ro.extra_y_ranges = {"right": Range1d(2.2, 88.3)}
side_axis(ro, "left", RX0, [0, 50, 100], {0: "0.00", 50: "50.00", 100: "100.00"})
side_axis(ro, "right", RX1, [40, 80], {40: "40.00", 80: "80.00"}, "right")
for level, color in ((78.8, "#f23645"), (17.9, "#4caf50"), (62.2, "#50535e"), (49.4, "#787b86")):
    hline(ro, level, RX0, RX1, color, 1.1)
ro.line(wk_i, wk_v, line_color="#4caf50", line_width=1.1)
ro.line(wd_i, wd_v, line_color="#f44336", line_width=1.1)
ro.line(wsk_i, wsk_v, line_color="#4caf50", line_width=1.1)
ro.line(wsd_i, wsd_v, line_color="#f44336", line_width=1.1)

rt = time_strip(R_W, RX_FULL, RX0, RX1, w_month_ticks, w_year_ticks, 31, 499)

# --- header, footer
head = figure(width=1886, height=27, x_range=(0, 1886), y_range=(0, 27), tools="", toolbar_location=None,
              output_backend="svg", x_axis_location=None, y_axis_location=None, min_border=0,
              background_fill_color=DARK, border_fill_color=DARK, outline_line_color=None)
head.grid.grid_line_color = None
head.add_layout(Label(x=10, y=11, text="Tickmill published on TradingView.com, Jan 09, 2025 08:28 UTC", text_color="#d1d4dc",
                      text_font=FONT, text_font_size="13px", text_baseline="middle"))

foot = figure(width=1886, height=34, x_range=(0, 1886), y_range=(0, 34), tools="", toolbar_location=None,
              output_backend="svg", x_axis_location=None, y_axis_location=None, min_border=0,
              background_fill_color=DARK, border_fill_color=DARK, outline_line_color=None)
foot.grid.grid_line_color = None
foot.patch([10, 19, 19, 15, 15, 10], [23, 23, 13, 13, 20, 20], fill_color="#d1d4dc", line_color=None)
foot.patch([24, 29, 24, 19], [23, 23, 13, 13], fill_color="#d1d4dc", line_color=None)
foot.scatter([21], [21], marker="circle", size=4, fill_color="#d1d4dc", line_color=None)
foot.add_layout(Label(x=33, y=18, text="TradingView", text_color="#d1d4dc", text_font=FONT, text_font_size="15px",
                      text_baseline="middle"))

frame_css = {"outline": "1px solid #868993"}
left_col = column(lm, lv, lo, lt, spacing=1, styles=frame_css)
right_col = column(rm, rv, ro, rt, spacing=1, styles=frame_css)
page = column(head, row(Spacer(width=10), left_col, Spacer(width=5), right_col), foot,
              stylesheets=[GlobalInlineStyleSheet(css="html, body { background: #1e222d; margin: 0; overflow: hidden; }")])

open("out.html", "w").write(file_html(page, INLINE))
